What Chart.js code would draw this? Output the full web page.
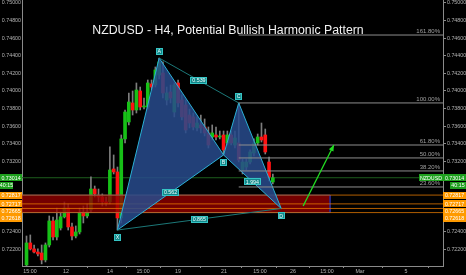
<!DOCTYPE html>
<html>
<head>
<meta charset="utf-8">
<title>NZDUSD - H4, Potential Bullish Harmonic Pattern</title>
<script src="https://cdn.jsdelivr.net/npm/chart.js@4.4.0/dist/chart.umd.min.js"></script>
<style>
    html, body { margin: 0; padding: 0; background: #000; }
    #chart { display: block; }
</style>
</head>
<body>
<canvas id="chart" width="466" height="275"></canvas>
<script>
// H4 candles, oldest first (index = bar number)
const opens = [
    0.72023, 0.72273, 0.72205, 0.72170, 0.72159, 0.72080, 0.72250, 0.72523, 0.72341, 0.72443,
    0.72570, 0.72670, 0.72455, 0.72352, 0.72398, 0.72614, 0.72580, 0.72648, 0.72886, 0.72807,
    0.72795, 0.72739, 0.72739, 0.73114, 0.73080, 0.72557, 0.73455, 0.73648, 0.73864, 0.73784,
    0.74000, 0.73818, 0.73818, 0.74080, 0.74068, 0.74182, 0.74205, 0.73898, 0.73989, 0.73761,
    0.74091, 0.73898, 0.73841, 0.73727, 0.73705, 0.73580, 0.73614, 0.73591, 0.73523, 0.73477,
    0.73500, 0.73477, 0.73500, 0.73409, 0.73500, 0.73386, 0.73409, 0.73102, 0.73136, 0.73193,
    0.73295, 0.73409, 0.73477, 0.73500, 0.73193, 0.72966
];
const highs = [
    0.72352, 0.72364, 0.72250, 0.72205, 0.72250, 0.72273, 0.72580, 0.72568, 0.72670, 0.72625,
    0.72739, 0.72716, 0.72500, 0.72466, 0.72670, 0.72693, 0.72716, 0.73023, 0.72920, 0.72886,
    0.72830, 0.72795, 0.73364, 0.73273, 0.73136, 0.73500, 0.73784, 0.73977, 0.74000, 0.74091,
    0.74045, 0.73920, 0.74125, 0.74125, 0.74273, 0.74375, 0.74330, 0.74045, 0.74068, 0.74091,
    0.74125, 0.73955, 0.73898, 0.73795, 0.73750, 0.73705, 0.73727, 0.73682, 0.73591, 0.73614,
    0.73591, 0.73545, 0.73545, 0.73545, 0.73545, 0.73545, 0.73864, 0.73227, 0.73227, 0.73330,
    0.73455, 0.73511, 0.73636, 0.73568, 0.73250, 0.73057
];
const lows = [
    0.72015, 0.72193, 0.72159, 0.72125, 0.72035, 0.72057, 0.72227, 0.72307, 0.72307, 0.72420,
    0.72557, 0.72420, 0.72307, 0.72330, 0.72375, 0.72500, 0.72557, 0.72625, 0.72795, 0.72739,
    0.72693, 0.72693, 0.72716, 0.73057, 0.72420, 0.72500, 0.73409, 0.73614, 0.73727, 0.73750,
    0.73784, 0.73795, 0.73795, 0.74011, 0.74045, 0.74136, 0.73920, 0.73841, 0.73864, 0.73705,
    0.73818, 0.73670, 0.73523, 0.73580, 0.73557, 0.73545, 0.73523, 0.73489, 0.73352, 0.73443,
    0.73443, 0.73455, 0.73273, 0.73386, 0.73386, 0.73352, 0.73193, 0.73057, 0.73102, 0.73170,
    0.73261, 0.73386, 0.73420, 0.73284, 0.72977, 0.72943
];
const closes = [
    0.72273, 0.72205, 0.72170, 0.72148, 0.72080, 0.72250, 0.72523, 0.72341, 0.72534, 0.72570,
    0.72670, 0.72455, 0.72352, 0.72398, 0.72614, 0.72580, 0.72625, 0.72886, 0.72830, 0.72795,
    0.72739, 0.72727, 0.73102, 0.73080, 0.72557, 0.73455, 0.73761, 0.73875, 0.73784, 0.74011,
    0.73818, 0.73830, 0.74091, 0.74045, 0.74239, 0.74330, 0.73977, 0.73977, 0.73920, 0.74068,
    0.73864, 0.73705, 0.73557, 0.73636, 0.73591, 0.73636, 0.73580, 0.73523, 0.73386, 0.73523,
    0.73477, 0.73489, 0.73330, 0.73500, 0.73409, 0.73466, 0.73216, 0.73193, 0.73193, 0.73307,
    0.73409, 0.73477, 0.73443, 0.73307, 0.73023, 0.73014
];

// Time axis labels (bar positions) and price axis ticks
const timeTickPos = [0.92, 10.42, 22.03, 30.74, 39.97, 52.11, 61.61, 70.32, 79.29, 88.0, 100.13];
const timeTickLabels = ['15:00', '12', '14', '15:00', '19', '21', '15:00', '26', '15:00', 'Mar', '5'];
const priceTicks = [0.722, 0.724, 0.726, 0.728, 0.730, 0.732, 0.734, 0.736, 0.738,
    0.740, 0.742, 0.744, 0.746, 0.748, 0.750];

// Harmonic pattern XABCD
const patternNames = ['X', 'A', 'B', 'C', 'D'];
const patternBars = [24, 35, 52, 56, 67.2];
const patternPrices = [0.72420, 0.74375, 0.73273, 0.73864, 0.72665];
const ratioFrom = ['X', 'A', 'B', 'X'];
const ratioTo = ['B', 'C', 'D', 'D'];
const ratioText = ['0.562', '0.539', '1.994', '0.865'];

// Fibonacci retracement drawn from C
const fibLabels = ['161.80%', '100.00%', '61.80%', '50.00%', '38.20%', '23.60%'];
const fibPrices = [0.74636, 0.73864, 0.73386, 0.73239, 0.73091, 0.72909];

// PRZ box and levels
const przTop = 0.72817;
const przBottom = 0.72618;
const przEndBar = 80.1;
const zoneLevels = [0.72817, 0.72717, 0.72665, 0.72618];

// Projected move arrow
const arrowBars = [73.0, 81.1];
const arrowPrices = [0.72693, 0.73386];

const lastPrice = 0.73014;
const countdown = '40:15';
const symbol = 'NZDUSD';

const X_MIN = -1.19;
const X_MAX = 109.9;
const Y_MIN = 0.72011;
const Y_MAX = 0.75034;

const GREEN = '#17c017';
const RED = '#ff1212';
const TEAL_EDGE = '#2bb0d6';
const ORANGE = '#ff9a00';
const AXIS_TEXT = '#b4b4b4';
const SMALL_FONT = '5.3px "Liberation Sans", Arial, sans-serif';

function bar(name) {
    const i = patternNames.indexOf(name);
    return { x: patternBars[i], y: patternPrices[i] };
}

function hLine(price, x0, x1, color, order) {
    return {
        type: 'line',
        data: [{ x: x0, y: price }, { x: x1, y: price }],
        borderColor: color,
        borderWidth: 1,
        pointRadius: 0,
        fill: false,
        order
    };
}

function shape(points, fillColor, edgeColor, order) {
    return {
        type: 'line',
        data: points,
        borderColor: edgeColor,
        backgroundColor: fillColor,
        borderWidth: 1,
        pointRadius: 0,
        fill: 'shape',
        order
    };
}

function drawBox(ctx, cx, cy, w, h, bg, border, text, color, font) {
    ctx.fillStyle = bg;
    ctx.fillRect(Math.round(cx - w / 2), Math.round(cy - h / 2), w, h);
    if (border) {
        ctx.strokeStyle = border;
        ctx.lineWidth = 1;
        ctx.strokeRect(Math.round(cx - w / 2) + 0.5, Math.round(cy - h / 2) + 0.5, w - 1, h - 1);
    }
    ctx.fillStyle = color;
    ctx.font = font;
    ctx.textAlign = 'center';
    ctx.textBaseline = 'middle';
    ctx.fillText(text, cx, cy + 0.5);
}

// Datasets
const barIdx = opens.map((_, i) => i);

const datasets = [
    // last price line (behind candles)
    hLine(lastPrice, X_MIN - 5, X_MAX + 5, '#1d5e1d', 40),
    {
        type: 'bar',
        label: 'wicks',
        data: barIdx.map(i => ({ x: i, y: [lows[i], highs[i]] })),
        backgroundColor: '#7d7d7d',
        barThickness: 1,
        grouped: false,
        order: 31
    },
    {
        type: 'bar',
        label: 'bodies',
        data: barIdx.map(i => ({ x: i, y: [opens[i], closes[i]] })),
        backgroundColor: barIdx.map(i => closes[i] >= opens[i] ? GREEN : RED),
        barThickness: 3,
        minBarLength: 1,
        grouped: false,
        order: 30
    },
    // PRZ box
    shape([
        { x: X_MIN - 5, y: przTop }, { x: przEndBar, y: przTop },
        { x: przEndBar, y: przBottom }, { x: X_MIN - 5, y: przBottom },
        { x: X_MIN - 5, y: przTop }
    ], 'rgba(145, 0, 0, 0.8)', '#2a2a90', 20),
    ...zoneLevels.map(p => hLine(p, X_MIN - 5, X_MAX + 5, 'rgba(235, 125, 0, 0.75)', 19)),
    // pattern triangles
    shape([bar('X'), bar('A'), bar('B'), bar('X')], 'rgba(40, 74, 140, 0.86)', TEAL_EDGE, 12),
    shape([bar('B'), bar('C'), bar('D'), bar('B')], 'rgba(40, 74, 140, 0.86)', TEAL_EDGE, 12),
    // diagonal helpers A-C and X-D
    {
        type: 'line', data: [bar('A'), bar('C')], borderColor: '#1c7878',
        borderWidth: 1, pointRadius: 0, fill: false, order: 11
    },
    {
        type: 'line', data: [bar('X'), bar('D')], borderColor: '#1c7878',
        borderWidth: 1, pointRadius: 0, fill: false, order: 11
    },
    // fib levels
    ...fibPrices.map(p => hLine(p, bar('C').x, X_MAX + 5, '#8e8e8e', 10)),
    // arrow
    {
        type: 'line',
        label: 'arrow',
        data: arrowBars.map((b, i) => ({ x: b, y: arrowPrices[i] })),
        borderColor: '#22dd22',
        borderWidth: 1.3,
        pointRadius: 0,
        fill: false,
        order: 5
    }
];

const overlay = {
    id: 'overlay',
    afterDatasetsDraw(chart) {
        const { ctx, chartArea } = chart;
        const xs = chart.scales.x;
        const ys = chart.scales.y;
        ctx.save();
        ctx.beginPath();
        ctx.rect(chartArea.left, chartArea.top, chartArea.width, chartArea.height);
        ctx.clip();

        // arrow head
        const meta = chart.data.datasets.findIndex(d => d.label === 'arrow');
        const pts = chart.getDatasetMeta(meta).data;
        const p0 = pts[0], p1 = pts[1];
        const ang = Math.atan2(p1.y - p0.y, p1.x - p0.x);
        ctx.fillStyle = '#22dd22';
        ctx.beginPath();
        ctx.moveTo(p1.x, p1.y);
        ctx.lineTo(p1.x - 6 * Math.cos(ang) + 2.6 * Math.sin(ang), p1.y - 6 * Math.sin(ang) - 2.6 * Math.cos(ang));
        ctx.lineTo(p1.x - 6 * Math.cos(ang) - 2.6 * Math.sin(ang), p1.y - 6 * Math.sin(ang) + 2.6 * Math.cos(ang));
        ctx.closePath();
        ctx.fill();

        // fib labels
        ctx.font = '6px "Liberation Sans", Arial, sans-serif';
        ctx.fillStyle = '#a0a0a0';
        ctx.textAlign = 'right';
        ctx.textBaseline = 'bottom';
        fibPrices.forEach((p, i) => {
            ctx.fillText(fibLabels[i], chartArea.right - 3, ys.getPixelForValue(p) - 0.5);
        });

        // ratio labels
        ratioText.forEach((t, i) => {
            const a = bar(ratioFrom[i]), b = bar(ratioTo[i]);
            const cx = (xs.getPixelForValue(a.x) + xs.getPixelForValue(b.x)) / 2;
            const cy = (ys.getPixelForValue(a.y) + ys.getPixelForValue(b.y)) / 2;
            drawBox(ctx, cx, cy, 17, 7, '#13898b', '#35c4c4', t, '#f2ffff', SMALL_FONT);
        });

        // point letters
        patternNames.forEach((n, i) => {
            const px = xs.getPixelForValue(patternBars[i]);
            const py = ys.getPixelForValue(patternPrices[i]);
            const above = n === 'A' || n === 'C';
            drawBox(ctx, px, py + (above ? -6.5 : 7.5), 7, 7, '#13898b', '#35c4c4', n, '#f2ffff', SMALL_FONT);
        });

        // title
        ctx.font = '12.3px "Liberation Sans", Arial, sans-serif';
        ctx.fillStyle = '#f2f2f2';
        ctx.textAlign = 'center';
        ctx.textBaseline = 'alphabetic';
        ctx.fillText('NZDUSD - H4, Potential Bullish Harmonic Pattern', 228, 34);

        // symbol tag at the right edge
        const lp = ys.getPixelForValue(lastPrice);
        drawBox(ctx, chartArea.right - 12, lp, 24, 7, '#1ea01e', null, symbol, '#ffffff', SMALL_FONT);
        ctx.restore();
    },
    afterDraw(chart) {
        const { ctx } = chart;
        const ys = chart.scales.y;
        const tags = [{ y: ys.getPixelForValue(lastPrice), text: lastPrice.toFixed(5), bg: '#1ea01e' }];
        tags.push({ y: tags[0].y + 7.5, text: countdown, bg: '#1ea01e', small: true });
        zoneLevels.forEach(p => {
            const prev = tags[tags.length - 1].y;
            tags.push({ y: Math.max(ys.getPixelForValue(p), prev + 7.3), text: p.toFixed(5), bg: ORANGE });
        });
        ctx.save();
        tags.forEach(t => {
            const lw = t.small ? 13 : 22;
            const rw = t.small ? 16 : 23;
            drawBox(ctx, lw / 2, t.y, lw, 7, t.bg, null, t.text, '#ffffff', SMALL_FONT);
            drawBox(ctx, chart.width - rw / 2, t.y, rw, 7, t.bg, null, t.text, '#ffffff', SMALL_FONT);
        });
        ctx.restore();
    }
};

function priceAxis(position, width, tickLen) {
    return {
        type: 'linear',
        position,
        min: Y_MIN,
        max: Y_MAX,
        grid: { display: true, drawOnChartArea: false, drawTicks: tickLen > 0, tickLength: tickLen, color: '#8a8a8a' },
        border: { display: true, color: '#8a8a8a' },
        ticks: {
            color: AXIS_TEXT,
            font: { family: '"Liberation Sans", Arial, sans-serif', size: 5.3 },
            padding: 1,
            callback: v => v.toFixed(5)
        },
        afterBuildTicks: scale => { scale.ticks = priceTicks.map(v => ({ value: v })); },
        afterFit: scale => { scale.width = width; scale.paddingTop = 0; scale.paddingBottom = 0; }
    };
}

new Chart(document.getElementById('chart'), {
    type: 'bar',
    data: { datasets },
    options: {
        responsive: false,
        animation: false,
        devicePixelRatio: 1,
        layout: { padding: 0 },
        plugins: { legend: { display: false }, tooltip: { enabled: false } },
        scales: {
            x: {
                type: 'linear',
                min: X_MIN,
                max: X_MAX,
                offset: false,
                grid: { display: true, drawOnChartArea: false, tickLength: 2, color: '#8a8a8a' },
                border: { display: true, color: '#8a8a8a' },
                ticks: {
                    color: AXIS_TEXT,
                    font: { family: '"Liberation Sans", Arial, sans-serif', size: 5.3 },
                    padding: 0,
                    maxRotation: 0,
                    autoSkip: false,
                    callback: (v, i) => timeTickLabels[i]
                },
                afterBuildTicks: scale => { scale.ticks = timeTickPos.map(v => ({ value: v })); },
                afterFit: scale => { scale.height = 9; scale.paddingLeft = 0; scale.paddingRight = 0; }
            },
            y: priceAxis('left', 22, 0),
            y2: priceAxis('right', 23, 3)
        }
    },
    plugins: [overlay]
});
</script>
</body>
</html>
